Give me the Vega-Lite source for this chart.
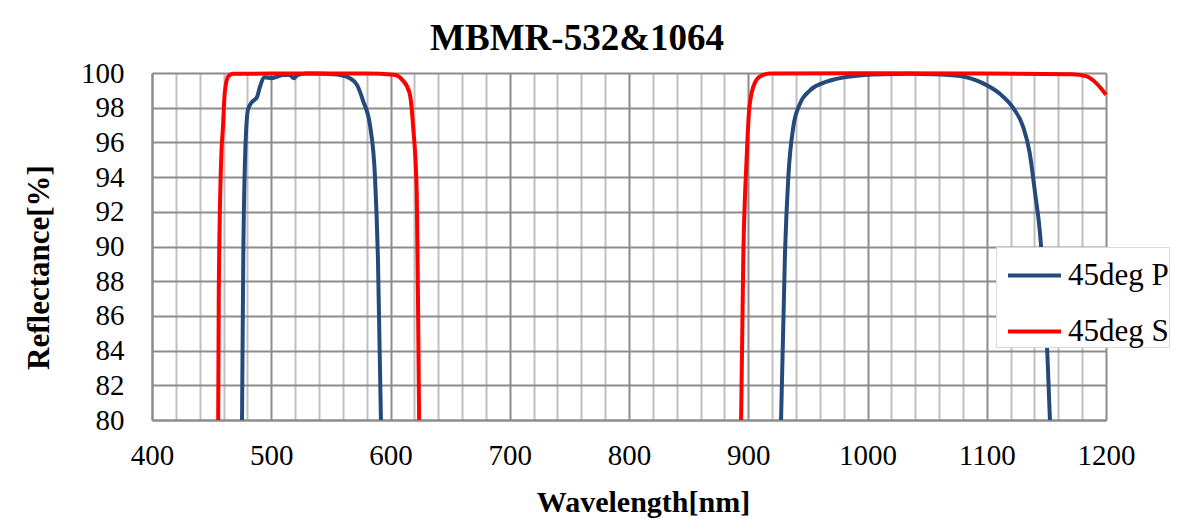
{
  "$schema": "https://vega.github.io/schema/vega-lite/v6.json",
  "autosize": {"type": "none"},
  "padding": {"left": 152, "top": 73, "right": 78, "bottom": 99},
  "width": 954,
  "height": 347,
  "background": "white",
  "view": {"stroke": null},
  "title": {
    "text": "MBMR-532&1064",
    "font": "Liberation Serif",
    "fontSize": 37,
    "fontWeight": "bold",
    "color": "black",
    "anchor": "middle",
    "dx": -52,
    "baseline": "alphabetic",
    "offset": -28
  },
  "data": {
    "values": [
      {"s": "45deg P", "seg": "P1", "x": 475.5, "y": 80},
      {"s": "45deg P", "seg": "P1", "x": 476.5, "y": 89},
      {"s": "45deg P", "seg": "P1", "x": 478, "y": 95},
      {"s": "45deg P", "seg": "P1", "x": 480.5, "y": 97.9},
      {"s": "45deg P", "seg": "P1", "x": 483.5, "y": 98.3},
      {"s": "45deg P", "seg": "P1", "x": 488, "y": 98.6},
      {"s": "45deg P", "seg": "P1", "x": 490.5, "y": 99.2},
      {"s": "45deg P", "seg": "P1", "x": 494.5, "y": 99.75},
      {"s": "45deg P", "seg": "P1", "x": 500.5, "y": 99.7},
      {"s": "45deg P", "seg": "P1", "x": 504.5, "y": 99.78},
      {"s": "45deg P", "seg": "P1", "x": 510, "y": 99.88},
      {"s": "45deg P", "seg": "P1", "x": 515.5, "y": 99.88},
      {"s": "45deg P", "seg": "P1", "x": 519, "y": 99.7},
      {"s": "45deg P", "seg": "P1", "x": 522, "y": 99.88},
      {"s": "45deg P", "seg": "P1", "x": 530, "y": 99.97},
      {"s": "45deg P", "seg": "P1", "x": 545, "y": 99.95},
      {"s": "45deg P", "seg": "P1", "x": 557.6, "y": 99.88},
      {"s": "45deg P", "seg": "P1", "x": 566, "y": 99.7},
      {"s": "45deg P", "seg": "P1", "x": 572, "y": 99.3},
      {"s": "45deg P", "seg": "P1", "x": 577, "y": 98.4},
      {"s": "45deg P", "seg": "P1", "x": 583, "y": 96.9},
      {"s": "45deg P", "seg": "P1", "x": 587, "y": 94},
      {"s": "45deg P", "seg": "P1", "x": 589.5, "y": 89.2},
      {"s": "45deg P", "seg": "P1", "x": 592, "y": 80},
      {"s": "45deg P", "seg": "P2", "x": 927.5, "y": 80},
      {"s": "45deg P", "seg": "P2", "x": 930.8, "y": 89.6},
      {"s": "45deg P", "seg": "P2", "x": 933.6, "y": 94},
      {"s": "45deg P", "seg": "P2", "x": 937.8, "y": 96.9},
      {"s": "45deg P", "seg": "P2", "x": 943.5, "y": 98.25},
      {"s": "45deg P", "seg": "P2", "x": 951.8, "y": 99.0},
      {"s": "45deg P", "seg": "P2", "x": 965.8, "y": 99.5},
      {"s": "45deg P", "seg": "P2", "x": 985.3, "y": 99.8},
      {"s": "45deg P", "seg": "P2", "x": 1013, "y": 99.93},
      {"s": "45deg P", "seg": "P2", "x": 1035, "y": 99.95},
      {"s": "45deg P", "seg": "P2", "x": 1055, "y": 99.93},
      {"s": "45deg P", "seg": "P2", "x": 1077.5, "y": 99.83},
      {"s": "45deg P", "seg": "P2", "x": 1097, "y": 99.4},
      {"s": "45deg P", "seg": "P2", "x": 1111, "y": 98.8},
      {"s": "45deg P", "seg": "P2", "x": 1122, "y": 98.0},
      {"s": "45deg P", "seg": "P2", "x": 1130.5, "y": 96.9},
      {"s": "45deg P", "seg": "P2", "x": 1136, "y": 95.4},
      {"s": "45deg P", "seg": "P2", "x": 1140.5, "y": 93.1},
      {"s": "45deg P", "seg": "P2", "x": 1144.6, "y": 90.8},
      {"s": "45deg P", "seg": "P2", "x": 1151, "y": 83.5},
      {"s": "45deg P", "seg": "P2", "x": 1153, "y": 80},
      {"s": "45deg S", "seg": "S1", "x": 455.5, "y": 80},
      {"s": "45deg S", "seg": "S1", "x": 456, "y": 87.3},
      {"s": "45deg S", "seg": "S1", "x": 458, "y": 95},
      {"s": "45deg S", "seg": "S1", "x": 459.5, "y": 96.9},
      {"s": "45deg S", "seg": "S1", "x": 461, "y": 98.85},
      {"s": "45deg S", "seg": "S1", "x": 464, "y": 99.8},
      {"s": "45deg S", "seg": "S1", "x": 468, "y": 99.95},
      {"s": "45deg S", "seg": "S1", "x": 500, "y": 99.97},
      {"s": "45deg S", "seg": "S1", "x": 580, "y": 99.97},
      {"s": "45deg S", "seg": "S1", "x": 603, "y": 99.9},
      {"s": "45deg S", "seg": "S1", "x": 610, "y": 99.6},
      {"s": "45deg S", "seg": "S1", "x": 616, "y": 98.85},
      {"s": "45deg S", "seg": "S1", "x": 619, "y": 96.9},
      {"s": "45deg S", "seg": "S1", "x": 622, "y": 93.1},
      {"s": "45deg S", "seg": "S1", "x": 623, "y": 87.3},
      {"s": "45deg S", "seg": "S1", "x": 624, "y": 80},
      {"s": "45deg S", "seg": "S2", "x": 894, "y": 80},
      {"s": "45deg S", "seg": "S2", "x": 895.8, "y": 89.2},
      {"s": "45deg S", "seg": "S2", "x": 898.6, "y": 95},
      {"s": "45deg S", "seg": "S2", "x": 900.8, "y": 97.9},
      {"s": "45deg S", "seg": "S2", "x": 904.2, "y": 99.2},
      {"s": "45deg S", "seg": "S2", "x": 909.8, "y": 99.8},
      {"s": "45deg S", "seg": "S2", "x": 918, "y": 99.97},
      {"s": "45deg S", "seg": "S2", "x": 1000, "y": 99.98},
      {"s": "45deg S", "seg": "S2", "x": 1100, "y": 99.97},
      {"s": "45deg S", "seg": "S2", "x": 1172, "y": 99.93},
      {"s": "45deg S", "seg": "S2", "x": 1183.8, "y": 99.8},
      {"s": "45deg S", "seg": "S2", "x": 1192, "y": 99.4},
      {"s": "45deg S", "seg": "S2", "x": 1200, "y": 98.75}
    ]
  },
  "mark": {"type": "line", "strokeWidth": 4, "interpolate": "monotone", "strokeCap": "butt"},
  "encoding": {
    "x": {
      "field": "x",
      "type": "quantitative",
      "scale": {"domain": [400, 1200], "nice": false, "zero": false},
      "axis": {
        "values": [400,420,440,460,480,500,520,540,560,580,600,620,640,660,680,700,720,740,760,780,800,820,840,860,880,900,920,940,960,980,1000,1020,1040,1060,1080,1100,1120,1140,1160,1180,1200],
        "grid": true,
        "gridColor": {"condition": {"test": "datum.value % 100 === 0", "value": "#8c8c8c"}, "value": "#c0c0c0"},
        "gridWidth": 2,
        "ticks": false,
        "labelExpr": "datum.value % 100 === 0 ? format(datum.value, 'd') : ''",
        "labelOverlap": false,
        "labelFlush": false,
        "labelFont": "Liberation Serif",
        "labelFontSize": 29,
        "labelColor": "black",
        "labelPadding": 21,
        "domainColor": "#8c8c8c",
        "domainWidth": 2,
        "title": "Wavelength[nm]",
        "titleFont": "Liberation Serif",
        "titleFontSize": 30,
        "titleFontWeight": "bold",
        "titleColor": "black",
        "titleX": 491,
        "titleY": 91,
        "titleAlign": "center",
        "titleBaseline": "alphabetic"
      }
    },
    "y": {
      "field": "y",
      "type": "quantitative",
      "scale": {"domain": [80, 100], "nice": false, "zero": false},
      "axis": {
        "values": [80,82,84,86,88,90,92,94,96,98,100],
        "grid": true,
        "gridColor": "#8c8c8c",
        "gridWidth": 2,
        "ticks": false,
        "labelOverlap": false,
        "labelFlush": false,
        "labelFont": "Liberation Serif",
        "labelFontSize": 29,
        "labelColor": "black",
        "labelPadding": 28,
        "domainColor": "#8c8c8c",
        "domainWidth": 2,
        "title": "Reflectance[%]",
        "titleFont": "Liberation Serif",
        "titleFontSize": 31,
        "titleFontWeight": "bold",
        "titleColor": "black",
        "titleAngle": 270,
        "titleX": -113,
        "titleY": 194,
        "titleAlign": "center",
        "titleBaseline": "middle"
      }
    },
    "color": {
      "field": "s",
      "type": "nominal",
      "scale": {"domain": ["45deg P", "45deg S"], "range": ["#244a7c", "#ff0000"]},
      "legend": {
        "title": null,
        "orient": "none",
        "legendX": 844,
        "legendY": 174,
        "padding": 0,
        "rowPadding": 12,
        "symbolOffset": 10,
        "fillColor": "white",
        "strokeColor": "#d9d9d9",
        "symbolType": "stroke",
        "symbolSize": 2809,
        "symbolStrokeWidth": 4,
        "labelFont": "Liberation Serif",
        "labelFontSize": 31,
        "labelColor": "black",
        "labelOffset": 5,
        "labelLimit": 300
      }
    },
    "detail": {"field": "seg", "type": "nominal"}
  }
}
